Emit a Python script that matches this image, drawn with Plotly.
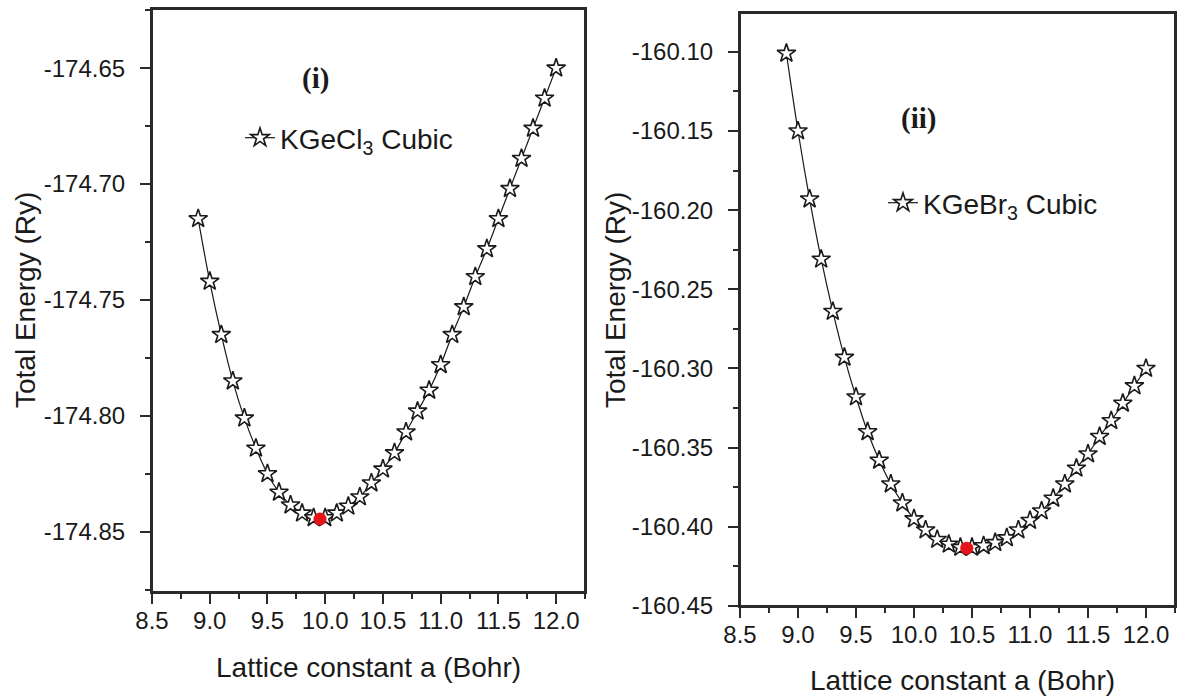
import plotly.graph_objects as go

# ---------------- data ----------------
lattice_a = [8.9, 9.0, 9.1, 9.2, 9.3, 9.4, 9.5, 9.6, 9.7, 9.8, 9.9, 10.0,
             10.1, 10.2, 10.3, 10.4, 10.5, 10.6, 10.7, 10.8, 10.9, 11.0,
             11.1, 11.2, 11.3, 11.4, 11.5, 11.6, 11.7, 11.8, 11.9, 12.0]

energy_kgecl3 = [-174.715, -174.742, -174.765, -174.785, -174.801, -174.814,
                 -174.825, -174.833, -174.8385, -174.842, -174.844, -174.844,
                 -174.842, -174.839, -174.835, -174.829, -174.823, -174.816,
                 -174.807, -174.798, -174.789, -174.778, -174.765, -174.753,
                 -174.740, -174.728, -174.715, -174.702, -174.689, -174.676,
                 -174.663, -174.650]

energy_kgebr3 = [-160.101, -160.150, -160.193, -160.231, -160.264, -160.293,
                 -160.318, -160.340, -160.358, -160.373, -160.385, -160.395,
                 -160.402, -160.408, -160.411, -160.413, -160.413, -160.412,
                 -160.410, -160.407, -160.402, -160.396, -160.390, -160.382,
                 -160.373, -160.363, -160.354, -160.343, -160.333, -160.322,
                 -160.311, -160.300]

min_kgecl3 = (9.955, -174.8445)
min_kgebr3 = (10.455, -160.4135)

x_tickvals = [8.5, 9.0, 9.5, 10.0, 10.5, 11.0, 11.5, 12.0]
x_ticktext = ["8.5", "9.0", "9.5", "10.0", "10.5", "11.0", "11.5", "12.0"]
y1_tickvals = [-174.65, -174.70, -174.75, -174.80, -174.85]
y1_ticktext = ["-174.65", "-174.70", "-174.75", "-174.80", "-174.85"]
y2_tickvals = [-160.10, -160.15, -160.20, -160.25, -160.30, -160.35, -160.40, -160.45]
y2_ticktext = ["-160.10", "-160.15", "-160.20", "-160.25", "-160.30", "-160.35", "-160.40", "-160.45"]

name_cl = "KGeCl<sub>3</sub> Cubic"
name_br = "KGeBr<sub>3</sub> Cubic"

# ---------------- figure ----------------
W, H = 1179, 699
FONT = "Liberation Sans, Arial, sans-serif"
AX = "#2a2a2a"

fig = go.Figure()

star_marker = dict(symbol="star", size=14, color="white",
                   line=dict(color="#1a1a1a", width=1.6))

fig.add_trace(go.Scatter(x=lattice_a, y=energy_kgecl3, mode="lines+markers",
                         name=name_cl, line=dict(color="#1a1a1a", width=1.2, shape="spline"),
                         marker=star_marker, xaxis="x", yaxis="y", legend="legend"))
fig.add_trace(go.Scatter(x=[min_kgecl3[0]], y=[min_kgecl3[1]], mode="markers",
                         marker=dict(symbol="circle", size=13, color="#e3151a"),
                         showlegend=False, xaxis="x", yaxis="y"))

fig.add_trace(go.Scatter(x=lattice_a, y=energy_kgebr3, mode="lines+markers",
                         name=name_br, line=dict(color="#1a1a1a", width=1.2, shape="spline"),
                         marker=star_marker, xaxis="x2", yaxis="y2", legend="legend2"))
fig.add_trace(go.Scatter(x=[min_kgebr3[0]], y=[min_kgebr3[1]], mode="markers",
                         marker=dict(symbol="circle", size=13, color="#e3151a"),
                         showlegend=False, xaxis="x2", yaxis="y2"))

def px_x(p):
    return p / W

def px_y(p):
    return 1 - p / H

axis_common = dict(showline=True, linecolor=AX, linewidth=2, mirror=True,
                   ticks="outside", ticklen=10, tickwidth=2, tickcolor=AX,
                   showgrid=False, zeroline=False, automargin=False,
                   tickfont=dict(family=FONT, size=24, color="#1a1a1a"))

xminor = dict(dtick=0.25, tick0=8.5, ticks="outside", ticklen=5,
              tickwidth=2, tickcolor=AX, showgrid=False)

fig.update_layout(
    width=W, height=H,
    margin=dict(l=0, r=0, t=0, b=0, pad=0),
    paper_bgcolor="white", plot_bgcolor="white",
    showlegend=True,
    xaxis=dict(domain=[px_x(152), px_x(585)], range=[8.5, 12.25],
               tickvals=x_tickvals, ticktext=x_ticktext, minor=xminor,
               ticklabelstandoff=-4, anchor="y", **axis_common),
    yaxis=dict(domain=[px_y(592), px_y(9)], range=[-174.876, -174.6245],
               tickvals=y1_tickvals, ticktext=y1_ticktext,
               minor=dict(dtick=0.025, tick0=-174.65, ticks="outside", ticklen=5,
                          tickwidth=2, tickcolor=AX, showgrid=False),
               ticklabelstandoff=10, anchor="x", **axis_common),
    xaxis2=dict(domain=[px_x(740), px_x(1175)], range=[8.5, 12.25],
                tickvals=x_tickvals, ticktext=x_ticktext, minor=xminor,
                ticklabelstandoff=-4, anchor="y2", **axis_common),
    yaxis2=dict(domain=[px_y(606), px_y(13)], range=[-160.45, -160.0755],
                tickvals=y2_tickvals, ticktext=y2_ticktext,
                minor=dict(dtick=0.025, tick0=-160.45, ticks="outside", ticklen=5,
                           tickwidth=2, tickcolor=AX, showgrid=False),
                ticklabelstandoff=10, anchor="x2", **axis_common),
    legend=dict(x=px_x(240), y=px_y(138), xanchor="left", yanchor="middle",
                bgcolor="rgba(0,0,0,0)", borderwidth=0,
                font=dict(family=FONT, size=28, color="#1a1a1a")),
    legend2=dict(x=px_x(883), y=px_y(203), xanchor="left", yanchor="middle",
                 bgcolor="rgba(0,0,0,0)", borderwidth=0,
                 font=dict(family=FONT, size=28, color="#1a1a1a")),
)

# plot frames
for xr, yr in (("x domain", "y domain"), ("x2 domain", "y2 domain")):
    fig.add_shape(type="rect", xref=xr, yref=yr, x0=0, x1=1, y0=0, y1=1,
                  line=dict(color=AX, width=2), fillcolor="rgba(0,0,0,0)",
                  layer="above")

title_font = dict(family=FONT, size=28, color="#1a1a1a")
label_font = dict(family="Liberation Serif, Times New Roman, serif", size=29, color="#1a1a1a")

annotations = [
    dict(text="<b>(i)</b>", x=px_x(315), y=px_y(78), font=label_font),
    dict(text="<b>(ii)</b>", x=px_x(918), y=px_y(118), font=label_font),
    dict(text="Total Energy (Ry)", x=px_x(25), y=px_y(300), textangle=-90, font=title_font),
    dict(text="Total Energy (Ry)", x=px_x(615), y=px_y(300), textangle=-90, font=title_font),
    dict(text="Lattice constant a (Bohr)", x=px_x(368), y=px_y(667), font=title_font),
    dict(text="Lattice constant a (Bohr)", x=px_x(962), y=px_y(680), font=title_font),
]
for a in annotations:
    fig.add_annotation(xref="paper", yref="paper", showarrow=False,
                       xanchor="center", yanchor="middle", **a)

fig.write_html("out.html")
